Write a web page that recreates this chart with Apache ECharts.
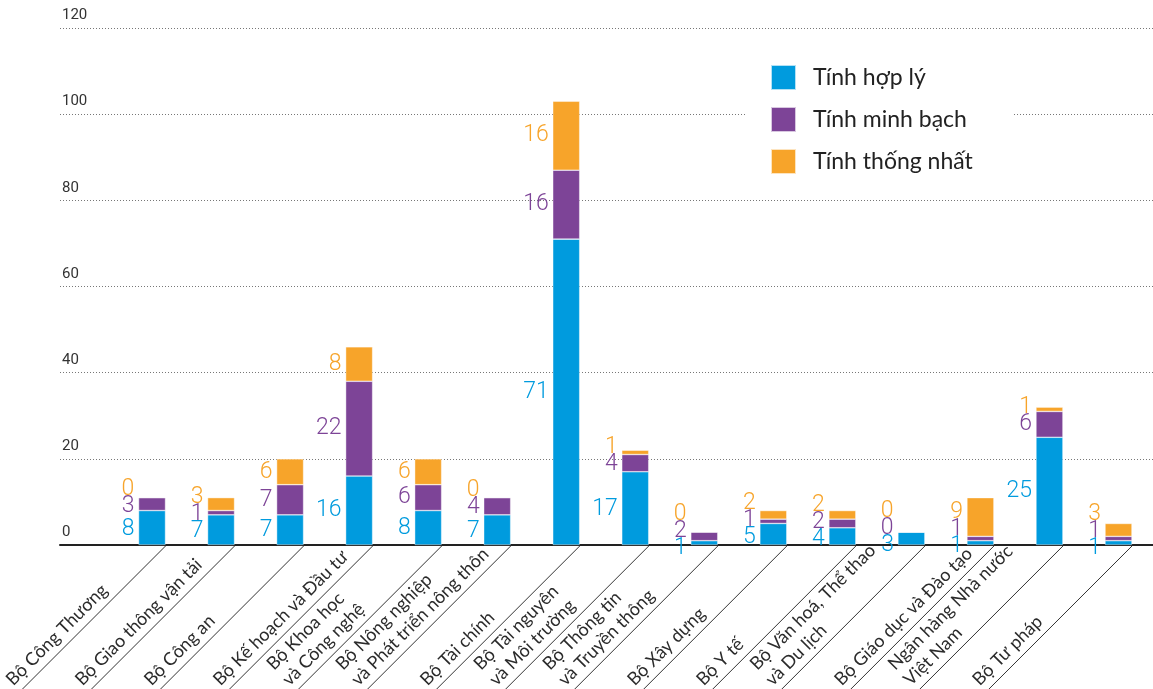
<!DOCTYPE html>
<html>
<head>
<meta charset="utf-8">
<script src="https://cdn.jsdelivr.net/npm/echarts@6/dist/echarts.min.js"></script>
<style>
html,body{margin:0;padding:0;background:#fff;}
#chart{width:1153px;height:689px;}
</style>
</head>
<body>
<div id="chart"></div>
<script>
// ---- data ----
const categories = [
  'Bộ Công Thương',
  'Bộ Giao thông vận tải',
  'Bộ Công an',
  'Bộ Kế hoạch và Đầu tư',
  'Bộ Khoa học\nvà Công nghệ',
  'Bộ Nông nghiệp\nvà Phát triển nông thôn',
  'Bộ Tài chính',
  'Bộ Tài nguyên\nvà Môi trường',
  'Bộ Thông tin\nvà Truyền thông',
  'Bộ Xây dựng',
  'Bộ Y tế',
  'Bộ Văn hoá, Thể thao\nvà Du lịch',
  'Bộ Giáo dục và Đào tạo',
  'Ngân hàng Nhà nước\nViệt Nam',
  'Bộ Tư pháp'
];
const seriesNames = ['Tính hợp lý', 'Tính minh bạch', 'Tính thống nhất'];
const hopLy     = [8, 7, 7, 16, 8, 7, 71, 17, 1, 5, 4, 3, 1, 25, 1];
const minhBach  = [3, 1, 7, 22, 6, 4, 16, 4, 2, 1, 2, 0, 1, 6, 1];
const thongNhat = [0, 3, 6, 8, 6, 0, 16, 1, 0, 2, 2, 0, 9, 1, 3];
const yMin = 0, yMax = 120, yStep = 20;

// ---- layout / style ----
const W = 1153, H = 689;
const GRID_TOP = 28, GRID_BOTTOM = 144;
const BAR_W = 27;
const colors = ['#009BDE', '#7D4497', '#F7A42A'];
const NUM_FONT = 'Roboto, sans-serif';
const TXT_FONT = 'Lato, "Open Sans", sans-serif';

const seriesValues = [hopLy, minhBach, thongNhat];
const baseY = H - GRID_BOTTOM;
function yPix(v) { return baseY - (v - yMin) * (baseY - GRID_TOP) / (yMax - yMin); }
const GAP = 17, BOTTOM_CAP = baseY + 3;
const labelTargets = categories.map((c, i) => {
  let cum = 0;
  const nat = [];
  seriesValues.forEach(arr => { nat.push(yPix(cum + arr[i] / 2)); cum += arr[i]; });
  let pos = nat.slice();
  for (let k = 1; k < pos.length; k++) {
    if (pos[k] > pos[k - 1] - GAP) pos[k] = pos[k - 1] - GAP;
  }
  const mean = a => a.reduce((s, x) => s + x, 0) / a.length;
  let shift = (mean(nat) - mean(pos)) / 2;
  shift = Math.min(shift, BOTTOM_CAP - pos[0]);
  if (shift > 0) pos = pos.map(p => p + shift);
  return pos;
});

const chart = echarts.init(document.getElementById('chart'), null, {renderer: 'canvas'});

const barSeries = seriesNames.map((name, s) => ({
  name: name,
  type: 'bar',
  stack: 'total',
  xAxisIndex: 1,
  yAxisIndex: 1,
  barWidth: BAR_W,
  data: seriesValues[s],
  itemStyle: { color: colors[s], borderColor: 'rgba(255,255,255,0.7)', borderWidth: 0.6 },
  label: {
    show: true,
    position: 'left',
    distance: 4,
    color: colors[s],
    fontSize: 23,
    fontWeight: 300,
    fontFamily: NUM_FONT,
    formatter: p => String(p.value)
  },
  labelLayout: function (params) {
    const t = labelTargets[params.dataIndex][s];
    const c = params.labelRect.y + params.labelRect.height / 2;
    return { dy: t - c };
  },
  emphasis: { disabled: true }
}));

const catSeries = {
  type: 'custom',
  xAxisIndex: 1,
  yAxisIndex: 1,
  silent: true,
  clip: false,
  z: 1,
  data: categories.map((c, i) => [i, 0]),
  renderItem: function (params, api) {
    const p = api.coord([api.value(0), 0]);
    const cx = p[0] + BAR_W / 2, cy = p[1] + 1;
    const r2 = Math.SQRT1_2;
    const s = 207, d = 3;
    const tx = cx - s * r2 - d * r2;
    const ty = cy + s * r2 - d * r2;
    return {
      type: 'group',
      children: [
        { type: 'line', shape: { x1: cx, y1: cy, x2: cx - 220, y2: cy + 220 },
          style: { stroke: '#333', lineWidth: 1 } },
        { type: 'text', x: tx, y: ty, rotation: Math.PI / 4,
          style: { text: categories[params.dataIndex], fill: '#2b2b2b',
            fontSize: 18, fontFamily: TXT_FONT, lineHeight: 22,
            align: 'left', verticalAlign: 'bottom',
            textAlign: 'left', textVerticalAlign: 'bottom' } }
      ]
    };
  }
};

chart.setOption({
  animation: false,
  backgroundColor: '#fff',
  legend: {
    data: seriesNames,
    orient: 'vertical',
    left: 747,
    top: 50,
    padding: [14, 40, 14, 23],
    backgroundColor: '#fff',
    itemWidth: 25,
    itemHeight: 25,
    itemGap: 15,
    icon: 'rect',
    textStyle: { fontSize: 23, lineHeight: 25, fontFamily: TXT_FONT, color: '#222', padding: [0, 0, 0, 12] },
    selectedMode: false
  },
  grid: [
    { left: 60, right: 0, top: GRID_TOP, bottom: GRID_BOTTOM },
    { left: 117.5, right: 0, top: GRID_TOP, bottom: GRID_BOTTOM }
  ],
  xAxis: [
    { gridIndex: 0, type: 'value', min: 0, max: 1,
      axisLine: { show: true, lineStyle: { color: '#222', width: 2 } },
      axisTick: { show: false }, axisLabel: { show: false }, splitLine: { show: false } },
    { gridIndex: 1, type: 'category', data: categories, boundaryGap: true,
      axisLine: { show: false }, axisTick: { show: false }, axisLabel: { show: false } }
  ],
  yAxis: [
    { gridIndex: 0, type: 'value', min: yMin, max: yMax, interval: yStep,
      axisLine: { show: false }, axisTick: { show: false },
      axisLabel: { inside: true, margin: 2, verticalAlign: 'bottom', align: 'left',
        padding: [0, 0, 5, 0], color: '#333', fontSize: 15, fontFamily: NUM_FONT },
      splitLine: { show: true, lineStyle: { color: '#777', type: [1, 2], width: 1 } } },
    { gridIndex: 1, type: 'value', min: yMin, max: yMax, interval: yStep, show: false,
      splitLine: { show: false } }
  ],
  series: [...barSeries, catSeries]
});
</script>
</body>
</html>
